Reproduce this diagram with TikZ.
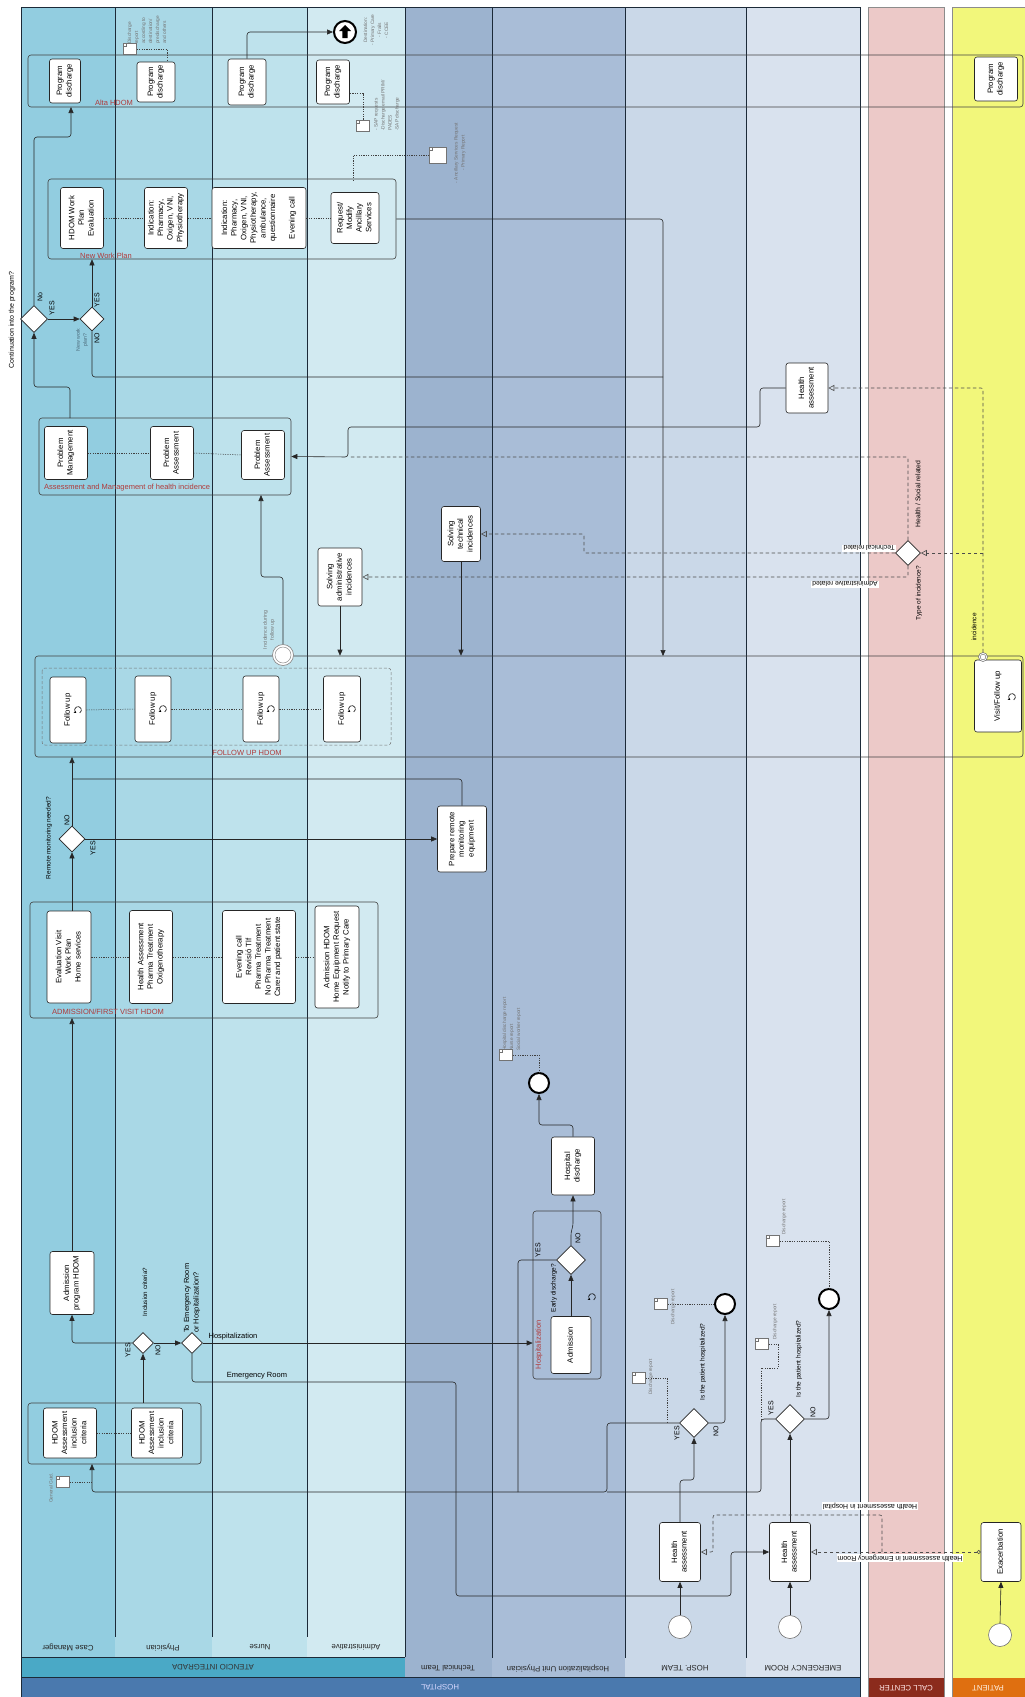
\documentclass[tikz,border=0pt]{standalone}
\usepackage{fontspec}
\setmainfont{Liberation Sans}
\usepackage{graphicx}
\usetikzlibrary{shapes.geometric,arrows.meta}
\newcommand\rt[1]{\rotatebox{90}{\begin{tabular}{@{}c@{}}#1\end{tabular}}}
\definecolor{cCM}{HTML}{92CDE0}
\definecolor{cPH}{HTML}{A9D8E6}
\definecolor{cNU}{HTML}{BEE2EC}
\definecolor{cAD}{HTML}{D2EAF1}
\definecolor{cTT}{HTML}{9CB3CF}
\definecolor{cHU}{HTML}{A9BDD7}
\definecolor{cHT}{HTML}{CAD8E8}
\definecolor{cER}{HTML}{D9E2EE}
\definecolor{cCC}{HTML}{ECC9C8}
\definecolor{cPA}{HTML}{F2F77B}
\definecolor{bAT}{HTML}{4AA9C6}
\definecolor{bHO}{HTML}{4A79AE}
\definecolor{bCC}{HTML}{8B2B1C}
\definecolor{bPA}{HTML}{DF6F10}
\definecolor{grpred}{HTML}{B03A3A}
\definecolor{laneline}{HTML}{1C2A38}
\begin{document}
\begin{tikzpicture}[x=1pt,y=-1pt,
  task/.style={draw=black!85, fill=white, rounded corners=2.5pt, line width=0.6pt, inner sep=0pt, font=\fontsize{7.8}{9.6}\selectfont},
  grp/.style={draw=black!75, rounded corners=3pt, line width=0.6pt, inner sep=0pt},
  gw/.style={diamond, draw=black!85, fill=white, line width=0.6pt, inner sep=0pt, minimum size=#1},
  gw/.default=26pt,
  stev/.style={circle, draw=black!55, fill=white, line width=0.6pt, minimum size=23pt, inner sep=0pt},
  endev/.style={circle, draw=black, fill=white, line width=2pt, minimum size=20pt, inner sep=0pt},
  docic/.style={draw=black!55, fill=white, line width=0.4pt, inner sep=0pt, minimum width=13pt, minimum height=11pt,
    path picture={\draw[black!55,line width=0.4pt] ([yshift=-3pt]path picture bounding box.north west) -- ++(3pt,0) -- ++(0,3pt);}},
  flow/.style={draw=black!85, line width=0.6pt, rounded corners=3pt, -{Triangle[length=6pt,width=5pt]}},
  plain/.style={draw=black!85, line width=0.6pt, rounded corners=3pt},
  msg/.style={draw=black!70, line width=0.6pt, dash pattern=on 3.5pt off 2.5pt, rounded corners=2pt, -{Triangle[open,length=6pt,width=6pt]}},
  msgc/.style={draw=black!70, line width=0.6pt, dash pattern=on 3.5pt off 2.5pt, rounded corners=2pt, {Circle[open,length=4pt]}-{Triangle[open,length=6pt,width=6pt]}},
  msgl/.style={draw=black!70, line width=0.6pt, dash pattern=on 3.5pt off 2.5pt, rounded corners=2pt},
  dotl/.style={draw=black!75, line width=0.5pt, dash pattern=on 1.2pt off 1.2pt},
  ann/.style={font=\fontsize{4.8}{7}\selectfont, text=black!55, inner sep=0pt},
  qlbl/.style={font=\fontsize{6.2}{7.5}\selectfont, inner sep=0pt, rotate=90},
  yn/.style={font=\fontsize{7}{8}\selectfont, inner sep=0pt, rotate=90},
  mlbl/.style={font=\fontsize{7}{8}\selectfont, inner sep=1pt, rotate=180, fill=white},
  grplbl/.style={font=\fontsize{7.5}{9}\selectfont, text=grpred, inner sep=0pt},
  lanelbl/.style={font=\fontsize{7.8}{9}\selectfont, text=black!85, rotate=180, inner sep=0pt},
  loopm/.pic={\draw[line width=0.55pt,-{Stealth[length=2.4pt,width=2.8pt]}] (-60:3.4pt) arc[start angle=-60,end angle=240,radius=3.4pt];}
]
\useasboundingbox (0,0) rectangle (1025,1697);
% ---------- lanes ----------
\fill[cCM] (21,7) rectangle (115,1657);
\fill[cPH] (115,7) rectangle (212,1657);
\fill[cNU] (212,7) rectangle (307,1657);
\fill[cAD] (307,7) rectangle (405,1657);
\fill[cTT] (405,7) rectangle (492,1677);
\fill[cHU] (492,7) rectangle (625,1677);
\fill[cHT] (625,7) rectangle (746,1677);
\fill[cER] (746,7) rectangle (860,1677);
\fill[bAT] (21,1657) rectangle (405,1677);
\fill[bHO] (21,1677) rectangle (860,1697);
\fill[cCC] (868,7) rectangle (944,1678);
\fill[bCC] (868,1678) rectangle (944,1697);
\fill[cPA] (952,7) rectangle (1025,1678);
\fill[bPA] (952,1678) rectangle (1025,1697);
\draw[laneline, line width=0.9pt] (115,7) -- (115,1637) (212,7) -- (212,1637) (307,7) -- (307,1637);
\draw[laneline, line width=0.9pt] (405,7) -- (405,1657) (492,7) -- (492,1658) (625,7) -- (625,1658) (746,7) -- (746,1658);
\draw[laneline, line width=0.9pt] (21,1697) -- (21,7) -- (860,7) -- (860,1697);
\draw[laneline, line width=0.6pt] (21,1657) -- (405,1657) (21,1677) -- (860,1677);
\draw[black!45, line width=0.6pt] (868,1697) -- (868,7) -- (944,7) -- (944,1697);
\draw[black!45, line width=0.6pt] (952,1697) -- (952,7) -- (1025,7);
% lane labels
\node[lanelbl] at (68,1647) {Case Manager};
\node[lanelbl] at (163,1647) {Physician};
\node[lanelbl] at (260,1647) {Nurse};
\node[lanelbl] at (356,1647) {Administrative};
\node[lanelbl] at (448,1668) {Technical Team};
\node[lanelbl] at (558,1668) {Hospitalization Unit Physician};
\node[lanelbl] at (685,1668) {HOSP. TEAM};
\node[lanelbl] at (803,1668) {EMERGENCY ROOM};
\node[lanelbl, text=black!80] at (213,1667) {ATENCIO INTEGRADA};
\node[lanelbl, text=white!85!blue] at (440,1687) {HOSPITAL};
\node[lanelbl, text=white!90!red] at (906,1688) {CALL CENTER};
\node[lanelbl, text=white!90!orange] at (988,1688) {PATIENT};
% ---------- groups ----------
\node[grp, minimum width=995pt, minimum height=52pt] (alta) at (525.5,81) {};
\node[grp, minimum width=348pt, minimum height=80pt] (nwp) at (222,219) {};
\node[grp, minimum width=252pt, minimum height=77pt] (amg) at (165,456.5) {};
\node[grp, minimum width=988pt, minimum height=101pt] (fu) at (529,706.5) {};
\node[grp, minimum width=348pt, minimum height=116pt] (afv) at (204,960) {};
\node[grp, minimum width=173pt, minimum height=61pt] (hag) at (114.5,1433.5) {};
\node[grp, minimum width=68pt, minimum height=168pt] (hsp) at (567,1295) {};
\draw[black!55, line width=0.5pt, dash pattern=on 3pt off 2pt, rounded corners=3pt] (42,668) rectangle (391,745);
\node[grplbl] at (114,103) {Alta HDOM};
\node[grplbl] at (106,256) {New Work Plan};
\node[grplbl, anchor=west] at (44,488) {Assessment and Management of health incidence};
\node[grplbl] at (247,753) {FOLLOW UP HDOM};
\node[grplbl] at (108,1012) {ADMISSION/FIRST VISIT HDOM};
\node[grplbl, rotate=90] at (539,1345) {Hospitalization};
% ---------- tasks ----------
\node[task, minimum width=31pt, minimum height=44pt] (pd1) at (65,81) {\rt{Program\\discharge}};
\node[task, minimum width=38pt, minimum height=40pt] (pd2) at (156,82) {\rt{Program\\discharge}};
\node[task, minimum width=38pt, minimum height=46pt] (pd3) at (247,82) {\rt{Program\\discharge}};
\node[task, minimum width=33pt, minimum height=44pt] (pd4) at (333,82) {\rt{Program\\discharge}};
\node[task, minimum width=43pt, minimum height=44pt] (pd5) at (996,79) {\rt{Program\\discharge}};
\node[task, minimum width=43pt, minimum height=61pt] (hw) at (82,218) {\rt{HDOM Work\\Plan\\Evaluation}};
\node[task, minimum width=43pt, minimum height=61pt] (ind1) at (166,218) {\rt{Indication:\\Pharmacy,\\Oxigen, VNI,\\Physiotherapy}};
\node[task, minimum width=94pt, minimum height=61pt] (ind2) at (259,218) {\rt{Indication:\\Pharmacy,\\Oxigen, VNI,\\Physiotherapy,\\ambulance,\\questionnaire\\[10pt]Evening call}};
\node[task, minimum width=48pt, minimum height=51pt] (rq) at (355,218) {\rt{Request/\\Modify\\Ancillary\\Services}};
\node[task, minimum width=43pt, minimum height=53pt] (pm) at (66,453) {\rt{Problem\\Management}};
\node[task, minimum width=43pt, minimum height=53pt] (pa1) at (172,453) {\rt{Problem\\Assessment}};
\node[task, minimum width=43pt, minimum height=49pt] (pa2) at (263,455) {\rt{Problem\\Assessment}};
\node[task, minimum width=42pt, minimum height=50pt] (ha3) at (807,388) {\rt{Health\\assessment}};
\node[task, minimum width=39pt, minimum height=55pt] (st) at (461,534) {\rt{Solving\\technical\\incidences}};
\node[task, minimum width=44pt, minimum height=58pt] (sa) at (340,577) {\rt{Solving\\administrative\\incidences}};
\node[task, minimum width=36pt, minimum height=66pt] (f1) at (68,710) {\rt{Follow up\\ }};
\node[task, minimum width=36pt, minimum height=66pt] (f2) at (153,709) {\rt{Follow up\\ }};
\node[task, minimum width=36pt, minimum height=66pt] (f3) at (261,709) {\rt{Follow up\\ }};
\node[task, minimum width=37pt, minimum height=66pt] (f4) at (342,709) {\rt{Follow up\\ }};
\node[task, minimum width=47pt, minimum height=72pt] (vf) at (998,696) {\rt{Visit/Follow up\\ }};
\pic at (78,710) {loopm};
\pic at (163,709) {loopm};
\pic at (271,709) {loopm};
\pic at (352,709) {loopm};
\pic at (1012,697) {loopm};
\node[task, minimum width=49pt, minimum height=66pt] (prm) at (462,839) {\rt{Prepare remote\\monitoring\\equipment}};
\node[task, minimum width=44pt, minimum height=92pt] (ev) at (69,957) {\rt{Evaluation Visit\\Work Plan\\Home services}};
\node[task, minimum width=43pt, minimum height=93pt] (ha1) at (151,957) {\rt{Health Assessment\\Pharma Treatment\\Oxigenotherapy}};
\node[task, minimum width=73pt, minimum height=93pt] (ec) at (259,957) {\rt{Evening call\\Revisió Tlf\\Pharma Treatment\\No Pharma Treatment\\Carer and patient state}};
\node[task, minimum width=44pt, minimum height=102pt] (ah) at (337,957) {\rt{Admission HDOM\\Home Equipment Request\\Notify to Primary Care}};
\node[task, minimum width=44pt, minimum height=63pt] (aph) at (72,1283) {\rt{Admission\\program HDOM}};
\node[task, minimum width=53pt, minimum height=50pt] (hc1) at (70,1433) {\rt{HDOM\\Assessment\\inclusion\\criteria}};
\node[task, minimum width=51pt, minimum height=50pt] (hc2) at (157,1433) {\rt{HDOM\\Assessment\\inclusion\\criteria}};
\node[task, minimum width=40pt, minimum height=57pt] (adm2) at (571,1345) {\rt{Admission}};
\pic at (592,1297) {loopm};
\node[task, minimum width=43pt, minimum height=58pt] (hd) at (573,1166) {\rt{Hospital\\discharge}};
\node[task, minimum width=41pt, minimum height=59pt] (haH) at (680,1552) {\rt{Health\\assessment}};
\node[task, minimum width=41pt, minimum height=59pt] (ha2) at (790,1552) {\rt{Health\\assessment}};
\node[task, minimum width=40pt, minimum height=59pt] (ex) at (1001,1552) {\rt{Exacerbation}};
% ---------- gateways & events ----------
\node[gw=27pt] (g1) at (34,319) {};
\node[gw=24pt] (g2) at (92,319) {};
\node[gw=25pt] (gTI) at (908,553) {};
\node[gw=26pt] (gRM) at (72,839) {};
\node[gw=21pt] (gIC) at (143,1343) {};
\node[gw=21pt] (gER) at (192,1343) {};
\node[gw=29pt] (gED) at (571,1260) {};
\node[gw=29pt] (gHT) at (694,1423) {};
\node[gw=29pt] (gE) at (790,1419) {};
\node[endev, minimum size=22pt] (endUp) at (345,32) {};
\fill (345,25) -- (351,31) -- (347.6,31) -- (347.6,38) -- (342.4,38) -- (342.4,31) -- (339,31) -- cycle;
\node[endev] (endH) at (539,1083) {};
\node[endev] (endHT) at (725,1304) {};
\node[endev] (endE) at (829,1299) {};
\node[stev] (sHT) at (680,1627) {};
\node[stev] (sER) at (790,1627) {};
\node[stev] (sP) at (1000,1635) {};
\node[circle, draw=black!45, fill=white, line width=0.7pt, minimum size=21pt, inner sep=0pt] (ie) at (283,655) {};
\draw[black!45, line width=0.5pt] (ie) circle (8pt);
\node[circle, draw=black!60, fill=white, line width=0.5pt, minimum size=9pt, inner sep=0pt] (bev) at (983,657) {};
\draw[black!60, line width=0.4pt] (bev) circle (2.8pt);
% ---------- documents ----------
\node[docic] (docA) at (130,49) {};
\node[docic] (docB) at (363,126) {};
\node[docic, minimum width=17pt, minimum height=16pt] (docC) at (438,155) {};
\node[docic] (docD) at (63,1482) {};
\node[docic] (docE) at (506,1055) {};
\node[docic] (docF) at (639,1378) {};
\node[docic] (docG) at (661,1304) {};
\node[docic] (docH) at (762,1344) {};
\node[docic] (docI) at (773,1241) {};
% ---------- connectors ----------
\draw[flow] (g1.north) |- (71,137) -- (71,107);
\draw[flow] (g1.east) -- (g2.west);
\draw[flow] (g2.north) -- (g2.north |- nwp.south);
\draw[plain] (g2.south) |- (663,377);
\draw[flow] (nwp.east) -| (663,656);
\draw[flow] (70,418) -- (70,387) -| (g1.south);
\draw[flow] (pd3.north) |- (endUp.west);
\draw[flow] (ha3.west) -- (760,388) -- (760,427) -- (348,427) -- (348,457) -- (amg.east);
\draw[msgl] (gTI.north) -- (908,457) -- (350,457);
\draw[msg] (983,553) -- (gTI.east);
\draw[msg] (bev.north) -- (983,388) -- (ha3.east);
\draw[msg] (gTI.west) -- (584,553) -- (584,534) -- (st.east);
\draw[msg] (gTI.south) -- (908,577) -- (sa.east);
\draw[flow] (st.south) -- (st.south |- fu.north);
\draw[flow] (sa.south) -- (sa.south |- fu.north);
\draw[flow] (ie.north) -- (283,577) -- (261,577) -- (261,495);
\draw[flow] (gRM.north) -- (72,757);
\draw[flow] (gRM.east) -- (prm.west);
\draw[plain] (prm.north) |- (72,779);
\draw[flow] (72,911) -- (gRM.south);
\draw[flow] (aph.north) -- (72,1018);
\draw[flow] (gIC.west) -| (aph.south);
\draw[flow] (gIC.east) -- (gER.west);
\draw[flow] (143,1403) -- (gIC.south);
\draw[flow] (gER.east) -- (gER.east -| hsp.west);
\draw[flow] (gER.south) |- (456,1382) |- (731,1596) |- (ha2.west);
\draw[flow] (gHT.west) -- (607,1423) -- (607,1492) -- (92,1492) -- (92,1464);
\draw[plain] (gE.west) -- (761,1419) -- (761,1492) -- (607,1492);
\draw[plain] (gED.west) -- (518,1260) -- (518,1492);
\draw[flow] (adm2.north) -- (gED.south);
\draw[flow] (gED.north) -- (571,1232) -- (573,1226) -- (hd.south);
\draw[flow] (hd.north) -- (573,1125) -| (endH.south);
\draw[flow] (sHT.north) -- (haH.south);
\draw[flow] (haH.north) -- (680,1480) -| (gHT.south);
\draw[flow] (gHT.east) -| (endHT.south);
\draw[flow] (sER.north) -- (ha2.south);
\draw[flow] (ha2.north) -- (gE.south);
\draw[flow] (gE.east) -| (endE.south);
\draw[flow] (sP.north) -- (ex.south);
\draw[msgc] (ex.west) -- (ha2.east);
\draw[msg] (882,1552) -- (882,1515) -- (713,1515) -- (713,1552) -- (haH.east);
% associations
\draw[dotl] (docA.east) -| ([xshift=11pt]pd2.north);
\draw[dotl] (350,93) -| (docB.north);
\draw[dotl] (docC.west) -| (353,180);
\draw[dotl] (hw.east) -- (ind1.west);
\draw[dotl] (ind1.east) -- (ind2.west);
\draw[dotl] (ind2.east) -- (rq.west);
\draw[dotl] (pm.east) -- (pa1.west);
\draw[dotl] (pa1.east) -- (pa2.west);
\draw[dotl] (f1.east) -- (f2.west);
\draw[dotl] (f2.east) -- (f3.west);
\draw[dotl] (f3.east) -- (f4.west);
\draw[dotl] (ev.east) -- (ha1.west);
\draw[dotl] (ha1.east) -- (ec.west);
\draw[dotl] (ec.east) -- (ah.west);
\draw[dotl] (hc1.east) -- (hc2.west);
\draw[dotl] (docD.east) -- (92,1482);
\draw[dotl] (docE.east) -| (endH.north);
\draw[dotl] (docF.east) -| (667,1423);
\draw[dotl] (docG.east) -- (endHT.west);
\draw[dotl] (docH.east) -- (778,1344) -- (778,1368) -- (761,1368) -- (761,1419);
\draw[dotl] (docI.east) -| (endE.north);
% ---------- annotations ----------
\node[ann, rotate=90, anchor=west, align=left] at (147,44) {Discharge\\report\\according to\\destination/\\predischarge\\and others};
\node[ann, rotate=90, align=center] at (376,30) {Destination:\\- Primary Care\\- Frails\\- CCEE};
\node[ann, rotate=90, anchor=west, align=left] at (387,131) {- SAP requests\\-Discharge email PRIM/\\PADES\\-SAP discharge};
\node[ann, rotate=90, align=center] at (460,153) {- Ancillary Services Request\\- Primary Report};
\node[ann, rotate=90] at (51,1488) {General Guid.};
\node[ann, rotate=90, anchor=west, align=left] at (512,1051) {Hospital discharge report\\Nurse report\\Social worker report};
\node[ann, rotate=90] at (651,1377) {Discharge report};
\node[ann, rotate=90] at (673,1307) {Discharge report};
\node[ann, rotate=90] at (775,1322) {Discharge report};
\node[ann, rotate=90] at (784,1217) {Discharge report};
\node[ann, rotate=90, align=center, font=\fontsize{5.2}{7}\selectfont] at (269,630) {Incidence during\\follow up};
\node[ann, rotate=90, align=center, font=\fontsize{5.2}{7}\selectfont, text=black!60!cyan] at (82,340) {New work\\plan?};
% ---------- labels ----------
\node[qlbl, font=\fontsize{7}{8}\selectfont] at (12,320) {Continuation into the program?};
\node[yn] at (40,297) {No};
\node[yn] at (52,308) {YES};
\node[yn] at (97,300) {YES};
\node[yn] at (97,338) {NO};
\node[qlbl, font=\fontsize{6.5}{8}\selectfont] at (49,838) {Remote monitoring needed?};
\node[yn] at (67,820) {NO};
\node[yn] at (93,848) {YES};
\node[qlbl] at (145,1292) {Inclusion criteria?};
\node[qlbl, font=\fontsize{7.4}{9.5}\selectfont, anchor=west, align=left] at (192,1333) {To Emergency Room\\or Hospitalization?};
\node[yn] at (128,1350) {YES};
\node[yn] at (158,1350) {NO};
\node[font=\fontsize{7.5}{9}\selectfont, inner sep=0pt] at (233,1337) {Hospitalization};
\node[font=\fontsize{7.5}{9}\selectfont, inner sep=0pt] at (257,1376) {Emergency Room};
\node[qlbl, font=\fontsize{6.5}{8}\selectfont] at (554,1288) {Early discharge?};
\node[yn] at (538,1250) {YES};
\node[yn] at (578,1238) {NO};
\node[qlbl, font=\fontsize{6.5}{8}\selectfont] at (703,1362) {Is the patient hospitalized?};
\node[yn] at (677,1433) {YES};
\node[yn] at (716,1431) {NO};
\node[qlbl, font=\fontsize{6.5}{8}\selectfont] at (799,1359) {Is the patient hospitalized?};
\node[yn] at (771,1408) {YES};
\node[yn] at (813,1412) {NO};
\node[qlbl, font=\fontsize{6.5}{8}\selectfont] at (919,593) {Type of incidence?};
\node[qlbl, font=\fontsize{6.8}{8}\selectfont] at (918,494) {Health / Social related};
\node[qlbl, font=\fontsize{6.5}{8}\selectfont] at (974,627) {incidence};
\node[mlbl, font=\fontsize{6.8}{8}\selectfont] at (869,548) {Technical related};
\node[mlbl, font=\fontsize{6.8}{8}\selectfont] at (845,584) {Administrative related};
\node[mlbl] at (870,1506) {Health assessment in Hospital};
\node[mlbl] at (900,1558) {Health assessment in Emergency Room};
\end{tikzpicture}
\end{document}
